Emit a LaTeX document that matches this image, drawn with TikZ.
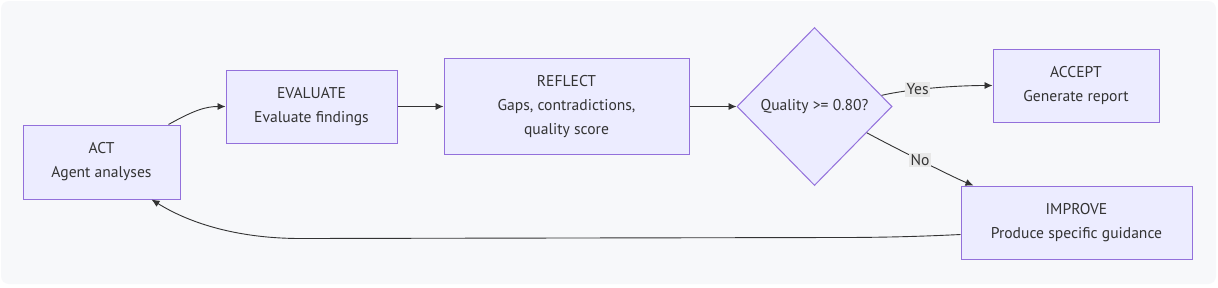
\documentclass[tikz,border=0pt]{standalone}
\usepackage{fontspec}
\setmainfont{PT Sans}
\usepackage{xcolor}
\usetikzlibrary{shapes.geometric, arrows.meta, positioning, calc}

\definecolor{boxfill}{HTML}{ECECFF}
\definecolor{boxline}{HTML}{9370DB}
\definecolor{inkgray}{HTML}{333333}
\definecolor{labelbg}{HTML}{E8E8E8}
\definecolor{canvas}{HTML}{F7F8FA}

\begin{document}
\begin{tikzpicture}[
    x=1pt, y=1pt,
    node distance=46pt and 46pt,
    stage/.style={
        draw=boxline,
        fill=boxfill,
        line width=1pt,
        align=center,
        text=inkgray,
        font=\fontsize{15.6}{24}\selectfont,
        inner sep=0pt
    },
    decision/.style={
        stage,
        diamond,
        aspect=1,
        minimum width=155pt,
        minimum height=158pt
    },
    flow/.style={-{Latex[length=8pt,width=7pt]}, draw=inkgray, line width=0.9pt},
    tag/.style={fill=labelbg, text=inkgray, font=\fontsize{15.6}{18}\selectfont, inner sep=1.5pt}
]

% canvas
\fill[white] (0,0) rectangle (1218,-287);
\fill[canvas, rounded corners=8pt] (1,-1) rectangle (1216,-284);
\useasboundingbox (0,0) rectangle (1218,-287);

\node[stage, minimum width=157pt, minimum height=74pt] (act) at (101.5,-162) {ACT\\Agent analyses};
\node[stage, minimum width=171pt, minimum height=73pt] (evaluate) at (311.5,-106.5) {EVALUATE\\Evaluate findings};
\node[stage, minimum width=245pt, minimum height=96pt, right=of evaluate] (reflect) {REFLECT\\Gaps, contradictions,\\quality score};
\node[decision, right=47pt of reflect] (check) {Quality >= 0.80?};
\node[stage, minimum width=166pt, minimum height=73pt] (accept) at (1076,-85.5) {ACCEPT\\Generate report};
\node[stage, minimum width=231pt, minimum height=73pt] (improve) at (1076.5,-222.5) {IMPROVE\\Produce specific guidance};

\coordinate (yesstart) at ($(check.north)!0.86!(check.east)$);
\coordinate (nostart) at ($(check.east)!0.33!(check.south)$);

\draw[flow] ($(act.north)+(67,0)$) .. controls ++(25,14) and ++(-20,0) .. (evaluate.west);
\draw[flow] (evaluate) -- (reflect);
\draw[flow] (reflect) -- (check);
\draw[flow] (yesstart) .. controls ++(25,6) and ++(-40,0) .. node[tag, pos=0.38] {Yes} (accept.west);
\draw[flow] (nostart) .. controls ++(20,-11) and ++(-20,8) .. node[tag, pos=0.5] {No} ($(improve.north west)+(13,0)$);
\draw[flow] ($(improve.west)+(0,-12)$) .. controls ++(-40,-2) and ++(40,0) .. ++(-120,-3) -- ++(-540,-1) .. controls ++(-60,0) and ++(40,-25) .. ($(act.south)+(50,0)$);

\end{tikzpicture}
\end{document}
